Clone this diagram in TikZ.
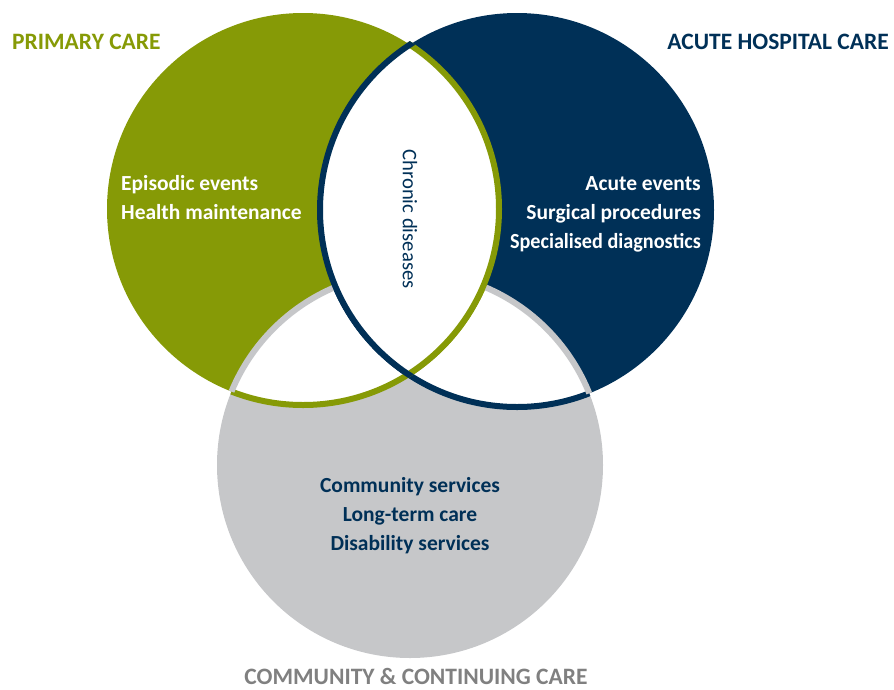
\documentclass[tikz,border=0pt]{standalone}
\usepackage{fontspec}
\setmainfont{Carlito}
\definecolor{pgreen}{RGB}{134,154,6}
\definecolor{pblue}{RGB}{0,48,87}
\definecolor{pgray}{RGB}{198,199,201}
\definecolor{lgray}{RGB}{128,128,128}
\tikzset{
  ring/.style={line width=6pt},
  title/.style={font=\bfseries\fontsize{23.5}{23.5}\selectfont, inner sep=0pt},
  inw/.style={font=\bfseries\fontsize{21.5}{21.5}\selectfont, text=white, inner sep=0pt},
  inb/.style={font=\bfseries\fontsize{21.5}{21.5}\selectfont, text=pblue, inner sep=0pt, anchor=base},
}
\def\rg{196pt}
\def\rb{197pt}
\def\rc{193pt}
\begin{document}
\begin{tikzpicture}[x=1pt,y=-1pt]
\useasboundingbox (0,0) rectangle (894,689);
\coordinate (G) at (303,209);
\coordinate (B) at (517,210);
\coordinate (C) at (410,465);
% fills
\fill[pgreen] (G) circle[radius=\rg];
\fill[pblue] (B) circle[radius=\rb];
\fill[pgray] (C) circle[radius=\rc];
% white pairwise intersections
\begin{scope}
  \clip (G) circle[radius=\rg];
  \fill[white] (B) circle[radius=\rb];
  \fill[white] (C) circle[radius=\rc];
\end{scope}
\begin{scope}
  \clip (B) circle[radius=\rb];
  \fill[white] (C) circle[radius=\rc];
\end{scope}
% lower arcs of green and blue inside gray
\begin{scope}
  \clip (C) circle[radius=\rc];
  \draw[ring,pgreen] (G) circle[radius=\rg];
  \draw[ring,pblue] (B) circle[radius=\rb];
\end{scope}
% gray arcs inside green and blue
\begin{scope}
  \clip (G) circle[radius=\rg];
  \draw[ring,pgray] (C) circle[radius=\rc];
\end{scope}
\begin{scope}
  \clip (B) circle[radius=\rb];
  \draw[ring,pgray] (C) circle[radius=\rc];
\end{scope}
% lens
\begin{scope}
  \clip (G) circle[radius=\rg];
  \fill[white] (B) circle[radius=\rb];
\end{scope}
\begin{scope}
  \clip (B) circle[radius=\rb+3pt];
  \draw[ring,pgreen] (G) circle[radius=\rg];
\end{scope}
\begin{scope}
  \clip (G) circle[radius=\rg+3pt];
  \draw[ring,pblue] (B) circle[radius=\rb];
\end{scope}
% titles
\node[title, text=pgreen, anchor=base west] (tp) at (12,49) {PRIMARY CARE};
\node[title, text=pblue, anchor=base east] (ta) at (889,49) {ACUTE HOSPITAL CARE};
\node[title, text=lgray, anchor=base, text depth=0pt] (tc) at (416,684) {COMMUNITY \& CONTINUING CARE};
% primary
\node[inw, anchor=base west] (p1) at (121,190) {Episodic events};
\node[inw, anchor=base west] (p2) at (121,219) {Health maintenance};
% acute
\node[inw, anchor=base east] (a1) at (701,190) {Acute events};
\node[inw, anchor=base east] (a2) at (701,219) {Surgical procedures};
\node[inw, anchor=base east, xscale=0.94, transform shape] (a3) at (701,248) {Specialised diagnostics};
% community
\node[inb] (c1) at (410,492) {Community services};
\node[inb] (c2) at (410,521) {Long-term care};
\node[inb] (c3) at (410,550) {Disability services};
% chronic
\node[font=\fontsize{20.7}{20.7}\selectfont, text=pblue, rotate=-90, inner sep=0pt] (ch) at (410,219) {Chronic diseases};
\end{tikzpicture}
\end{document}
